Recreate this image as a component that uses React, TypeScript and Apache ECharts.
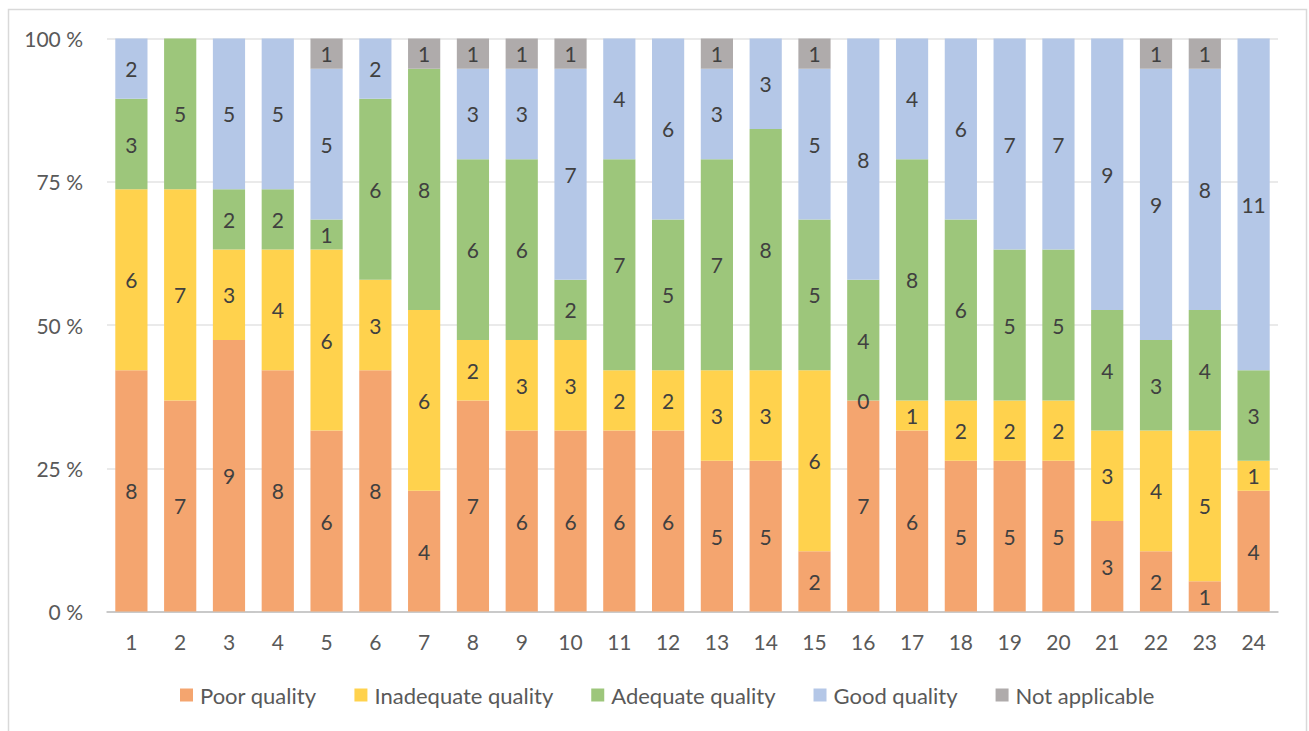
import React, { useEffect, useRef } from "react";
import * as echarts from "echarts";

// Study numbers along the x axis
const categories = [
  "1", "2", "3", "4", "5", "6", "7", "8", "9", "10", "11", "12",
  "13", "14", "15", "16", "17", "18", "19", "20", "21", "22", "23", "24",
];

// Counts per quality rating (null = no entry for that study)
const poorQuality = [8, 7, 9, 8, 6, 8, 4, 7, 6, 6, 6, 6, 5, 5, 2, 7, 6, 5, 5, 5, 3, 2, 1, 4];
const inadequateQuality = [6, 7, 3, 4, 6, 3, 6, 2, 3, 3, 2, 2, 3, 3, 6, 0, 1, 2, 2, 2, 3, 4, 5, 1];
const adequateQuality = [3, 5, 2, 2, 1, 6, 8, 6, 6, 2, 7, 5, 7, 8, 5, 4, 8, 6, 5, 5, 4, 3, 4, 3];
const goodQuality = [2, null, 5, 5, 5, 2, null, 3, 3, 7, 4, 6, 3, 3, 5, 8, 4, 6, 7, 7, 9, 9, 8, 11];
const notApplicable = [null, null, null, null, 1, null, 1, 1, 1, 1, null, null, 1, null, 1, null, null, null, null, null, null, 1, 1, null];

const yTicks = [0, 25, 50, 75, 100];

const seriesDefs = [
  { name: "Poor quality", data: poorQuality, color: "#F4A56F" },
  { name: "Inadequate quality", data: inadequateQuality, color: "#FFD24D" },
  { name: "Adequate quality", data: adequateQuality, color: "#9DC67B" },
  { name: "Good quality", data: goodQuality, color: "#B4C7E7" },
  { name: "Not applicable", data: notApplicable, color: "#AFABAB" },
];

const totals = categories.map((_, i) =>
  seriesDefs.reduce((s, d) => s + (d.data[i] ?? 0), 0)
);

const FONT = "Lato, 'Open Sans', sans-serif";

export default function App() {
  const ref = useRef<HTMLDivElement>(null);

  useEffect(() => {
    if (!ref.current) return;
    const chart = echarts.init(ref.current, null, { renderer: "svg" });

    const series = seriesDefs.map((d) => ({
      name: d.name,
      type: "bar",
      stack: "share",
      barCategoryGap: "34%",
      itemStyle: { color: d.color },
      label: {
        show: true,
        position: "inside",
        color: "#404040",
        fontSize: 21,
        fontFamily: FONT,
        formatter: (p: any) => String(d.data[p.dataIndex]),
      },
      emphasis: { disabled: true },
      data: d.data.map((v, i) => (v === null ? null : (v / totals[i]) * 100)),
    }));

    chart.setOption({
      animation: false,
      textStyle: { fontFamily: FONT },
      grid: { left: 107, right: 31, top: 38.5, bottom: 119.5, containLabel: false },
      legend: {
        bottom: 20,
        left: 175,
        itemWidth: 13,
        itemHeight: 13,
        itemGap: 38,
        icon: "rect",
        textStyle: { color: "#595959", fontSize: 22, fontFamily: FONT, padding: [0, 0, 0, 2] },
        data: seriesDefs.map((d) => d.name),
      },
      xAxis: {
        type: "category",
        data: categories,
        axisTick: { show: false },
        axisLine: { lineStyle: { color: "#BFBFBF", width: 1.5 } },
        axisLabel: { color: "#595959", fontSize: 21, fontFamily: FONT, margin: 19 },
      },
      yAxis: {
        type: "value",
        min: yTicks[0],
        max: yTicks[yTicks.length - 1],
        interval: 25,
        axisLine: { show: false },
        axisTick: { show: false },
        splitLine: { lineStyle: { color: "#E3E3E3", width: 1.5 } },
        axisLabel: {
          color: "#595959",
          fontSize: 21,
          fontFamily: FONT,
          margin: 24,
          formatter: "{value} %",
        },
      },
      graphic: [
        {
          type: "rect",
          shape: { x: 8.5, y: 9.5, width: 1298, height: 740 },
          style: { fill: "none", stroke: "#D9D9D9", lineWidth: 1.5 },
          silent: true,
        },
      ],
      series,
    });

    return () => chart.dispose();
  }, []);

  return (
    <div
      ref={ref}
      style={{ position: "fixed", left: 0, top: 0, width: 1309, height: 731, background: "#fff" }}
    />
  );
}
